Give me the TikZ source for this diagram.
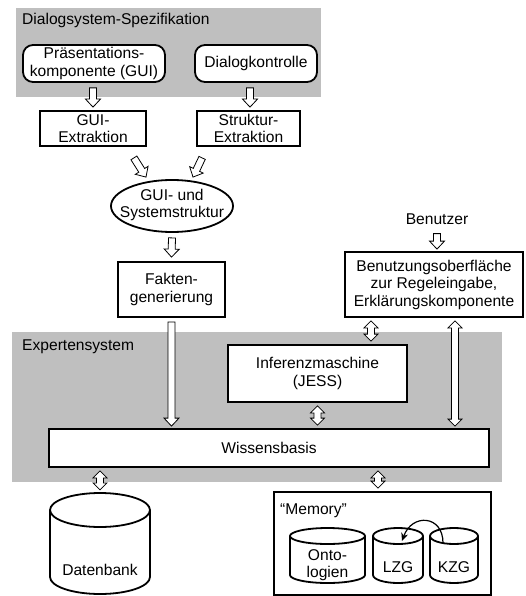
\documentclass[tikz,border=0pt]{standalone}
\usepackage{fontspec}
\setmainfont{Liberation Sans}
\usetikzlibrary{calc,arrows.meta,shapes.geometric}
\tikzset{
  box/.style={draw, line width=1.8pt, fill=white, align=center, inner sep=0pt},
  rbox/.style={box, rounded corners=10pt},
  lbl/.style={inner sep=0pt, align=center},
  arr/.style={draw, line width=0.8pt, fill=white, line join=miter},
  region/.style={fill=black!25, draw=none},
  cylsty/.style={line width=1.8pt}
}
% hollow single-headed block arrow
\newcommand\blkarrow[2]{%
  \path[arr] let \p1=(#1), \p2=(#2), \n1={atan2(\y2-\y1,\x2-\x1)}, \n2={veclen(\x2-\x1,\y2-\y1)} in
  [shift={(\p1)}, rotate=\n1] (0pt,-3.5pt) -- ({\n2-8pt},-3.5pt) -- ({\n2-8pt},-7.5pt) -- ({\n2},0pt)
  -- ({\n2-8pt},7.5pt) -- ({\n2-8pt},3.5pt) -- (0pt,3.5pt) -- cycle;}
% hollow double-headed block arrow
\newcommand\dblarrow[2]{%
  \path[arr] let \p1=(#1), \p2=(#2), \n1={atan2(\y2-\y1,\x2-\x1)}, \n2={veclen(\x2-\x1,\y2-\y1)} in
  [shift={(\p1)}, rotate=\n1] (0pt,0pt) -- (7pt,-7pt) -- (7pt,-3.5pt) -- ({\n2-7pt},-3.5pt) -- ({\n2-7pt},-7pt)
  -- ({\n2},0pt) -- ({\n2-7pt},7pt) -- ({\n2-7pt},3.5pt) -- (7pt,3.5pt) -- (7pt,7pt) -- cycle;}
% cylinder: cx, y of top ellipse centre, rx, ry, y of bottom ellipse centre
\newcommand\cyl[5]{%
  \fill[white] ({#1-#3},#2) rectangle ({#1+#3},#5);
  \fill[white] (#1,#5) ellipse[x radius=#3pt, y radius=#4pt];
  \draw[cylsty] ({#1-#3},#2) -- ({#1-#3},#5) arc[start angle=180, end angle=360, x radius=#3pt, y radius=#4pt] -- ({#1+#3},#2);
  \draw[cylsty, fill=white] (#1,#2) ellipse[x radius=#3pt, y radius=#4pt];}
\begin{document}
\begin{tikzpicture}[x=1pt, y=-1pt, every node/.style={font=\fontsize{15.6pt}{17.5pt}\selectfont}]
\useasboundingbox (0,0) rectangle (526,596);

% regions
\fill[region] (16,8) rectangle (321,97);
\node[lbl, anchor=base west] (dss) at (22,25) {Dialogsystem-Spezifikation};
\fill[region] (12,332) rectangle (502,482);
\node[lbl, anchor=base west] (exs) at (22,350) {Expertensystem};

% nodes
\node[rbox, minimum width=142pt, minimum height=37pt] (pra) at (94,63.5) {Präsentations-\\komponente (GUI)};
\node[rbox, minimum width=122pt, minimum height=37pt] (dia) at (256,63.5) {Dialogkontrolle};
\node[box, minimum width=106pt, minimum height=35pt] (gui) at (93,128.5) {GUI-\\Extraktion};
\node[box, minimum width=103pt, minimum height=35pt] (str) at (248.5,128.5) {Struktur-\\Extraktion};
\node[ellipse, draw, line width=1.8pt, fill=white, minimum width=122pt, minimum height=52pt, inner sep=0pt] (ell) at (172,206) {};
\node[lbl] (ellt) at (172,205) {GUI- und\\Systemstruktur};
\node[box, minimum width=107pt, minimum height=55pt] (fak) at (171.5,289.5) {Fakten-\\generierung};
\node[lbl] (ben) at (437,219) {Benutzer};
\node[box, minimum width=178pt, minimum height=65pt] (bo) at (434,284.5) {Benutzungsoberfläche\\zur Regeleingabe,\\Erklärungskomponente};
\node[box, minimum width=179pt, minimum height=57pt] (inf) at (317.5,373.5) {Inferenzmaschine\\(JESS)};
\node[box, minimum width=440pt, minimum height=38pt] (wis) at (269,448) {Wissensbasis};

% lower part
\cyl{100}{510}{50}{17}{577}
\node[lbl] (dat) at (100,570) {Datenbank};
\node[draw, line width=1.8pt, fill=white, minimum width=217pt, minimum height=103pt, inner sep=0pt] (mem) at (382.5,543.5) {};
\node[lbl, anchor=base west] (memt) at (280,514) {“Memory”};
\cyl{327.5}{536}{37.5}{8}{575}
\node[lbl] (ont) at (327.5,565) {Onto-\\logien};
\cyl{398}{536}{25}{8}{575}
\node[lbl] (lzg) at (398,567) {LZG};
\cyl{454}{536}{24}{8}{575}
\node[lbl] (kzg) at (454,567) {KZG};
\coordinate (kzgtop) at (443,543);
\coordinate (lzgtop) at (402,541);
\draw[line width=1.2pt, -{Stealth[length=8pt,width=7pt]}] (kzgtop) .. controls (443,515) and (412,513) .. (lzgtop);

% helper x positions
\coordinate (xd) at (250,0);
\coordinate (xb) at (371,0);
\coordinate (xr) at (455,0);
\coordinate (xm) at (378,0);

% arrows
\blkarrow{$(pra.south)+(-1,5)$}{$(gui.north)+(0,-3)$}
\blkarrow{$(dia.south -| xd)+(0,5)$}{$(str.north -| xd)+(0,-3)$}
\blkarrow{$(gui.south east)+(-13,11)$}{$(ell.north)+(-26,-2)$}
\blkarrow{$(str.south west)+(6,11)$}{$(ell.north)+(21,-2)$}
\blkarrow{$(ell.south)+(0,5)$}{$(fak.north)+(0,-4)$}
\blkarrow{$(fak.south)+(0,4)$}{$(wis.north -| fak.south)+(0,-2)$}
\blkarrow{$(ben.south)+(0,9)$}{$(bo.north)+(3,-2)$}
\dblarrow{$(bo.south -| xb)+(0,3)$}{$(inf.north -| xb)+(0,-3)$}
\dblarrow{$(bo.south -| xr)+(0,3)$}{$(wis.north -| xr)+(0,-2)$}
\dblarrow{$(inf.south)+(0,3)$}{$(wis.north -| inf.south)+(0,-3)$}
\dblarrow{$(wis.south -| dat)+(0,3)$}{$(wis.south -| dat)+(0,22)$}
\dblarrow{$(wis.south -| xm)+(0,3)$}{$(mem.north -| xm)+(0,-3)$}
\end{tikzpicture}
\end{document}
